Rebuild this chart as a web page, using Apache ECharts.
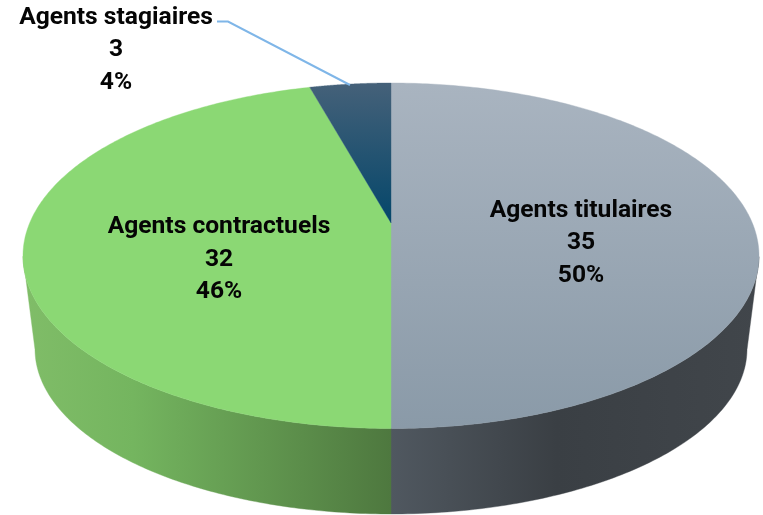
<!DOCTYPE html>
<html>
<head>
<meta charset="utf-8">
<style>html,body{margin:0;padding:0;background:#fff}#c{width:763px;height:515px}</style>
<script src="https://cdn.jsdelivr.net/npm/echarts@6/dist/echarts.min.js"></script>
</head>
<body>
<div id="c"></div>
<script>
var categories = ['Agents titulaires', 'Agents contractuels', 'Agents stagiaires'];
var values = [35, 32, 3];

var total = values.reduce(function (a, b) { return a + b; }, 0);
var TOP = { cx: 391, cy: 255.75, rx: 368, ry: 172.75 };
var BOTTOM = { cx: 391, cy: 349, rx: 356, ry: 165 };
var TILT = 0.19;
var L = echarts.graphic.LinearGradient;
function grad(x0, y0, x1, y1, stops) {
  return new L(x0, y0, x1, y1, stops.map(function (s) { return { offset: s[0], color: s[1] }; }), true);
}
var topFill = [
  grad(0, 83, 0, 428, [[0, '#a9b4c0'], [1, '#8a9aa8']]),
  '#8bd874',
  grad(0, 83, 0, 225, [[0, '#456179'], [1, '#03466a']])
];
var sideFill = [
  grad(391, 0, 759, 0, [[0, '#505860'], [0.45, '#3a3f44'], [1, '#41464b']]),
  grad(23, 0, 391, 0, [[0, '#80bd68'], [0.3, '#74b55f'], [1, '#4e783f']]),
  '#03466a'
];
var labelPos = [[581, 243], [219, 259.5], [116, 50]];
var labelFont = 'bold 24.6px Roboto, sans-serif';

function project(e, t) {
  var u = Math.sin(t), v = Math.cos(t), w = 1 + TILT * v;
  var up = u * Math.sqrt(1 - TILT * TILT) / w, vp = (v + TILT) / w;
  return { x: e.cx + e.rx * up, y: e.cy - e.ry * vp, lower: vp <= 0 };
}
function renderItem(params, api) {
  var i = params.dataIndex;
  var start = 0;
  for (var k = 0; k < i; k++) start += values[k];
  var a0 = start / total * 2 * Math.PI, a1 = (start + api.value(0)) / total * 2 * Math.PI;
  var n = 240, faceTop = [], sTop = [], sBot = [];
  for (var j = 0; j <= n; j++) {
    var t = a0 + (a1 - a0) * j / n, p = project(TOP, t);
    faceTop.push([p.x, p.y]);
    if (p.lower) {
      sTop.push([p.x, p.y]);
      var b = project(BOTTOM, t);
      sBot.unshift([b.x, b.y]);
    }
  }
  var apex = { x: TOP.cx, y: TOP.cy - TOP.ry * TILT };
  var face = faceTop.concat([[apex.x, apex.y]]);
  var children = [];
  if (sTop.length) {
    children.push({ type: 'polygon', shape: { points: sTop.concat(sBot) },
      style: { fill: sideFill[i], stroke: sideFill[i], lineWidth: 0.4 } });
  }
  children.push({ type: 'polygon', shape: { points: face },
    style: { fill: topFill[i], stroke: topFill[i], lineWidth: 0.4 } });
  return { type: 'group', children: children };
}
function renderLabels(params, api) {
  var i = params.dataIndex, v = api.value(0);
  var children = [];
  if (i === 2) {
    children.push({ type: 'polyline', shape: { points: [[217, 21.5], [228, 21.5], [350, 85]] },
      style: { fill: 'none', stroke: '#7fb6e8', lineWidth: 2 } });
  }
  children.push({ type: 'text', x: labelPos[i][0], y: labelPos[i][1],
    style: { text: categories[i] + '\n' + v + '\n' + Math.round(v / total * 100) + '%',
      font: labelFont, fill: '#050505', align: 'center', verticalAlign: 'middle', lineHeight: 32.5 } });
  return { type: 'group', children: children };
}
var data = values.map(function (v, i) { return { name: categories[i], value: [v] }; });
var chart = echarts.init(document.getElementById('c'), null, { renderer: 'canvas' });
chart.setOption({
  animation: false,
  backgroundColor: '#ffffff',
  series: [
    { type: 'custom', coordinateSystem: 'none', renderItem: renderItem, data: data, silent: true, z: 1 },
    { type: 'custom', coordinateSystem: 'none', renderItem: renderLabels, data: data, silent: true, z: 2 }
  ]
});
</script>
</body>
</html>
